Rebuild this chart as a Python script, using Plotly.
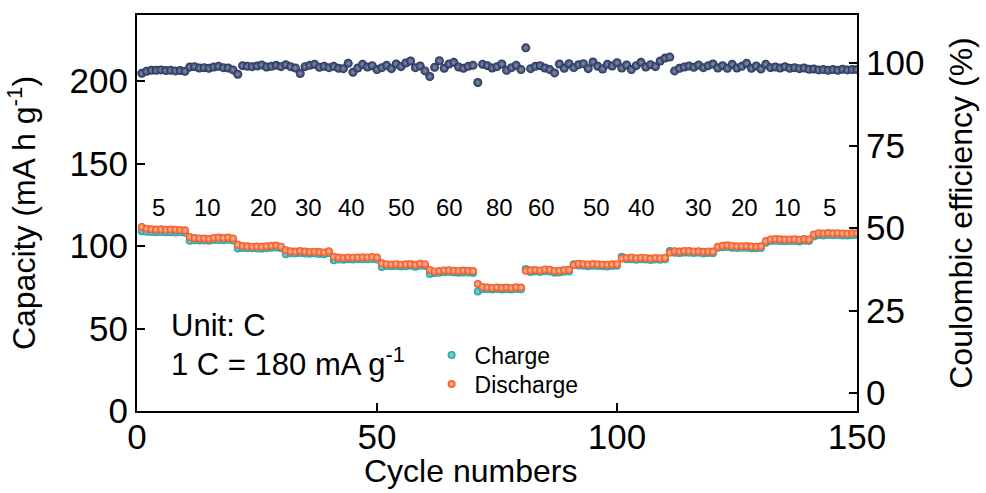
import plotly.graph_objects as go

cycles = list(range(1, 151))

discharge = [
    111.5, 110.5, 110.2, 110.0, 110.1, 109.8, 110.0, 109.9, 109.7, 109.5,
    105.5, 104.8, 104.6, 104.5, 104.3, 104.9, 105.1, 104.8, 105.2, 104.6,
    100.8, 100.0, 99.8, 99.6, 99.7, 99.5, 99.9, 100.2, 100.3, 99.6,
    97.5, 96.8, 96.6, 97.0, 96.7, 96.4, 96.5, 96.3, 96.1, 96.8,
    93.5, 93.0, 92.8, 93.1, 92.9, 93.0, 93.2, 93.1, 93.3, 93.0,
    89.5, 89.0, 88.8, 89.0, 88.7, 88.9, 89.1, 88.6, 89.3, 89.0,
    85.5, 84.6, 84.8, 85.2, 85.3, 85.0, 84.9, 85.1, 85.0, 84.8,
    77.0, 75.2, 74.8, 74.6, 74.9, 74.7, 74.8, 74.6, 75.0, 74.8,
    85.0, 85.3, 85.5, 85.2, 85.8, 85.6, 84.8, 85.0, 85.4, 85.6,
    88.5, 89.2, 89.0, 88.8, 89.1, 88.9, 88.7, 88.6, 88.9, 89.0,
    92.5, 92.8, 93.0, 92.6, 92.9, 92.8, 92.4, 92.7, 92.6, 92.9,
    96.0, 96.8, 96.6, 97.0, 96.9, 96.7, 96.8, 96.5, 96.7, 96.6,
    99.5, 100.2, 100.4, 100.0, 99.8, 99.9, 100.0, 99.7, 99.6, 99.8,
    103.0, 104.0, 104.2, 104.1, 103.9, 104.0, 104.1, 103.8, 104.2, 104.0,
    107.0, 107.8, 107.6, 107.9, 107.7, 107.8, 107.6, 107.5, 107.7, 107.8,
]

charge = [
    109.0, 108.6, 108.5, 108.4, 108.5, 108.3, 108.4, 108.2, 108.3, 108.1,
    103.2, 103.5, 103.4, 103.3, 103.2, 103.6, 103.7, 103.5, 103.8, 103.3,
    98.5, 98.8, 98.7, 98.6, 98.5, 98.4, 98.7, 99.0, 99.1, 98.6,
    95.0, 95.6, 95.4, 95.8, 95.5, 95.3, 95.4, 95.2, 95.0, 95.7,
    91.3, 91.8, 91.7, 92.0, 91.8, 91.9, 92.0, 91.9, 92.1, 91.8,
    87.2, 87.9, 87.7, 87.9, 87.6, 87.8, 88.0, 87.5, 88.1, 87.9,
    83.0, 83.6, 83.8, 84.1, 84.2, 84.0, 83.8, 84.0, 83.9, 83.7,
    72.5, 74.0, 73.8, 73.6, 73.9, 73.7, 73.8, 73.6, 74.0, 73.8,
    86.0, 84.3, 84.5, 84.2, 84.7, 84.5, 83.8, 84.0, 84.4, 84.6,
    89.0, 88.2, 88.0, 87.8, 88.1, 87.9, 87.7, 87.6, 87.9, 88.0,
    93.5, 91.9, 92.0, 91.7, 91.9, 91.8, 91.5, 91.8, 91.6, 91.9,
    97.0, 95.9, 95.7, 96.0, 95.9, 95.8, 95.9, 95.5, 95.8, 95.7,
    99.0, 99.2, 99.4, 99.0, 98.8, 98.9, 99.0, 98.7, 98.6, 98.8,
    102.0, 103.0, 103.2, 103.1, 102.9, 103.0, 103.1, 102.8, 103.2, 103.0,
    105.8, 106.5, 106.4, 106.6, 106.5, 106.6, 106.4, 106.3, 106.5, 106.6,
]

coulombic_eff = [
    96.9, 97.5, 97.8, 97.8, 97.9, 97.7, 97.8, 97.6, 97.7, 97.5,
    98.8, 98.9, 98.5, 98.6, 98.4, 98.8, 99.0, 98.6, 98.5, 97.9,
    96.6, 99.2, 99.0, 98.9, 99.1, 99.4, 98.8, 99.0, 99.3, 98.9,
    99.5, 98.9, 98.5, 96.8, 98.9, 99.3, 99.6, 98.7, 99.0, 98.6,
    99.0, 98.4, 98.3, 99.9, 97.2, 98.5, 99.6, 98.8, 99.2, 98.0,
    98.6, 99.3, 98.3, 99.7, 98.9, 100.0, 100.6, 98.6, 99.1, 97.6,
    95.9, 98.7, 100.7, 98.4, 99.7, 100.2, 98.8, 98.4, 99.0, 99.3,
    94.1, 99.6, 99.2, 98.5, 98.9, 99.7, 97.8, 98.6, 99.3, 98.0,
    104.6, 98.3, 99.0, 99.2, 98.5, 98.0, 97.0, 99.7, 98.4, 99.8,
    98.6, 99.5, 99.8, 98.3, 100.3, 99.0, 98.2, 99.6, 99.1, 100.1,
    98.5, 99.4, 98.0, 99.2, 100.2, 98.8, 99.5, 98.9, 100.6, 101.5,
    101.8, 97.6, 98.4, 98.8, 99.1, 98.7, 99.4, 98.6, 99.2, 99.7,
    98.5, 99.2, 98.4, 99.6, 98.5, 99.0, 99.9, 98.4, 99.1, 98.2,
    99.6, 98.6, 98.8, 98.5, 98.9, 98.4, 98.6, 98.3, 98.5, 98.1,
    98.2, 97.9, 98.0, 97.8, 98.0, 97.8, 98.1, 97.9, 98.0, 98.0,
]

rate_labels = ["5", "10", "20", "30", "40", "50", "60", "80", "60", "50", "40", "30", "20", "10", "5"]
rate_label_x = [4.4, 14.6, 26.3, 35.7, 44.6, 55.0, 65.0, 75.6, 84.2, 95.8, 105.0, 117.0, 126.5, 135.5, 144.2]
rate_label_y = 123.5

x_ticks = [0, 50, 100, 150]
left_ticks = [0, 50, 100, 150, 200]
right_ticks = [0, 25, 50, 75, 100]

FONT = "Liberation Sans, Arial, sans-serif"

fig = go.Figure()

fig.add_trace(go.Scatter(
    x=cycles, y=charge, mode="markers", name="Charge", legend="legend",
    marker=dict(size=8, color="#1ca3a6", line=dict(width=0),
                gradient=dict(type="radial", color="#8fdcdc")),
))
fig.add_trace(go.Scatter(
    x=cycles, y=discharge, mode="markers", name="Discharge", legend="legend2",
    marker=dict(size=8, color="#f0531f", line=dict(width=0),
                gradient=dict(type="radial", color="#ffc2a5")),
))
fig.add_trace(go.Scatter(
    x=cycles, y=coulombic_eff, mode="markers", name="CE", yaxis="y2",
    showlegend=False,
    marker=dict(size=9, color="#222f55", line=dict(width=0),
                gradient=dict(type="radial", color="#8593b5")),
))

for lab, xv in zip(rate_labels, rate_label_x):
    fig.add_annotation(x=xv, y=rate_label_y, xref="x", yref="y", text=lab,
                       showarrow=False, font=dict(size=24, color="black", family=FONT))

fig.add_annotation(x=0.044, y=0.215, xref="paper", yref="paper", text="Unit: C",
                   showarrow=False, xanchor="left", yanchor="middle",
                   font=dict(size=31, color="black", family=FONT))
fig.add_annotation(x=0.044, y=0.123, xref="paper", yref="paper",
                   text="1 C = 180 mA g<sup>-1</sup>",
                   showarrow=False, xanchor="left", yanchor="middle",
                   font=dict(size=31, color="black", family=FONT))
fig.add_annotation(x=0.4625, y=-0.152, xref="paper", yref="paper",
                   text="Cycle numbers", showarrow=False,
                   xanchor="center", yanchor="middle",
                   font=dict(size=32, color="black", family=FONT))

axis_common = dict(
    showline=True, linecolor="black", linewidth=2, ticks="inside", ticklen=8,
    tickwidth=2, tickcolor="black", showgrid=False, zeroline=False,
    tickfont=dict(size=35, color="black", family=FONT),
)

legend_common = dict(xanchor="left", yanchor="middle", bgcolor="rgba(0,0,0,0)",
                     font=dict(size=23, family=FONT), itemsizing="trace", itemwidth=36)

fig.update_layout(
    width=986, height=493,
    margin=dict(l=137, r=129, t=15, b=82),
    paper_bgcolor="white", plot_bgcolor="white",
    font=dict(family=FONT, color="black"),
    xaxis=dict(range=[0, 150], tickvals=x_ticks, mirror=True, ticklabelstandoff=-6,
               **axis_common),
    yaxis=dict(range=[0, 240], tickvals=left_ticks,
               title=dict(text="Capacity (mA h g<sup>-1</sup>)", font=dict(size=32), standoff=24),
               **axis_common),
    yaxis2=dict(range=[-5.45, 114.55], tickvals=right_ticks, overlaying="y", side="right",
                title=dict(text="Coulombic efficiency (%)", font=dict(size=32), standoff=26),
                **axis_common),
    legend=dict(x=0.405, y=0.1414, **legend_common),
    legend2=dict(x=0.405, y=0.0682, **legend_common),
    showlegend=True,
)

fig.write_html("out.html")
